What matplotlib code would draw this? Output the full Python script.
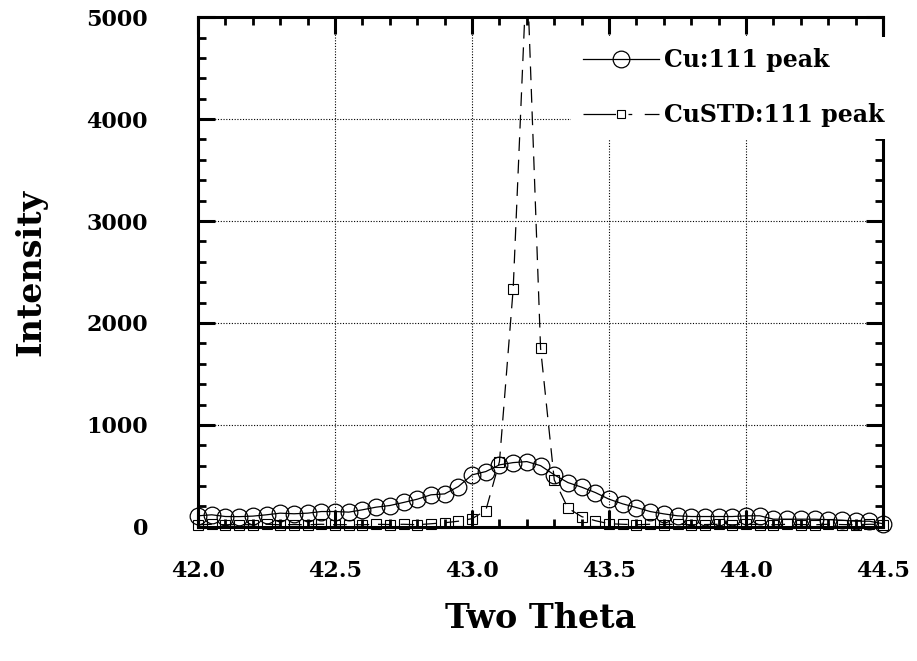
import numpy as np
import matplotlib
matplotlib.use("Agg")
import matplotlib.pyplot as plt
from matplotlib.ticker import MultipleLocator, FormatStrFormatter

two_theta = [42.00, 42.05, 42.10, 42.15, 42.20, 42.25, 42.30, 42.35, 42.40, 42.45,
             42.50, 42.55, 42.60, 42.65, 42.70, 42.75, 42.80, 42.85, 42.90, 42.95,
             43.00, 43.05, 43.10, 43.15, 43.20, 43.25, 43.30, 43.35, 43.40, 43.45,
             43.50, 43.55, 43.60, 43.65, 43.70, 43.75, 43.80, 43.85, 43.90, 43.95,
             44.00, 44.05, 44.10, 44.15, 44.20, 44.25, 44.30, 44.35, 44.40, 44.45,
             44.50]

cu_111 = [108, 118, 101, 100, 105, 118, 134, 128, 134, 150,
          150, 144, 167, 193, 209, 239, 271, 314, 323, 395,
          510, 542, 608, 630, 640, 600, 510, 434, 389, 336,
          271, 225, 189, 150, 127, 108, 101, 101, 101, 101,
          108, 108, 75, 75, 75, 75, 70, 65, 55, 55,
          30]

custd_111 = [20, 25, 20, 22, 20, 25, 20, 22, 20, 25,
             20, 22, 20, 25, 22, 25, 20, 30, 40, 55,
             80, 160, 640, 2333, 5500, 1752, 460, 183, 100, 60,
             30, 25, 20, 25, 22, 25, 20, 22, 25, 20,
             25, 22, 20, 25, 22, 20, 25, 22, 20, 25,
             22]

x_ticks = [42.0, 42.5, 43.0, 43.5, 44.0, 44.5]
y_ticks = [0, 1000, 2000, 3000, 4000, 5000]
labels = ["Cu:111 peak", "CuSTD:111 peak"]

font = "DejaVu Serif"
plt.rcParams["font.family"] = [font]
plt.rcParams["font.weight"] = "bold"

fig = plt.figure(figsize=(9.17, 6.61), dpi=100)
ax = fig.add_axes([0.216, 0.203, 0.747, 0.771])

x = np.array(two_theta)
cu = np.array(cu_111, dtype=float)
std = np.array(custd_111, dtype=float)
ymax = y_ticks[-1]

ax.set_xlim(x_ticks[0], x_ticks[-1])
ax.set_ylim(y_ticks[0], ymax)

# Cu series: solid line with open circles
ax.plot(x, cu, '-', color='black', lw=0.9, zorder=3)
ax.plot(x, cu, 'o', ms=12, mfc='none', mec='black', mew=0.9, clip_on=False, zorder=4)

# CuSTD series: dashed line with open squares
ax.plot(x, std, '-', color='black', lw=0.9, dashes=(11, 7), zorder=3)
std_vis = np.where(std > ymax, np.nan, std)
ax.plot(x, std_vis, 's', ms=7, mfc='none', mec='black', mew=0.8, clip_on=False, zorder=4)

# legend proxies
h1, = ax.plot([], [], '-o', color='black', lw=0.9, ms=12, mfc='none', mec='black', mew=0.9)
h2, = ax.plot([], [], '-s', color='black', lw=0.9, ms=5.5, mfc='none', mec='black', mew=0.8,
              dashes=(26, 10, 3, 10))
leg = ax.legend([h1, h2], labels, loc='upper right', bbox_to_anchor=(1.037, 0.985),
                frameon=True, facecolor='white', edgecolor='none', framealpha=1,
                fancybox=False, handlelength=3.2, handletextpad=0.25,
                labelspacing=1.3, borderpad=0.5,
                prop={'family': font, 'weight': 'bold', 'size': 17})
leg.set_zorder(10)

ax.xaxis.set_major_locator(matplotlib.ticker.FixedLocator(x_ticks))
ax.yaxis.set_major_locator(matplotlib.ticker.FixedLocator(y_ticks))
ax.xaxis.set_minor_locator(MultipleLocator(0.1))
ax.yaxis.set_minor_locator(MultipleLocator(200))
ax.xaxis.set_major_formatter(FormatStrFormatter('%.1f'))
ax.yaxis.set_major_formatter(FormatStrFormatter('%d'))

ax.tick_params(which='both', direction='in', top=True, right=True, colors='black')
ax.tick_params(which='major', length=12, width=2.2)
ax.tick_params(which='minor', length=6, width=2.0)
ax.tick_params(axis='x', which='major', pad=24, labelsize=16)
ax.tick_params(axis='y', which='major', pad=36, labelsize=16)
for lab in ax.get_xticklabels() + ax.get_yticklabels():
    lab.set_fontweight('bold')

for sp in ax.spines.values():
    sp.set_linewidth(2.2)

ax.grid(True, which='major', linestyle=(0, (1, 1.5)), color='black', lw=0.8)
ax.set_axisbelow(True)

ax.set_xlabel("Two Theta", fontsize=24, fontweight='bold', labelpad=14)
ax.set_ylabel("Intensity", fontsize=24, fontweight='bold', labelpad=28)

fig.savefig("out.png", dpi=100)
